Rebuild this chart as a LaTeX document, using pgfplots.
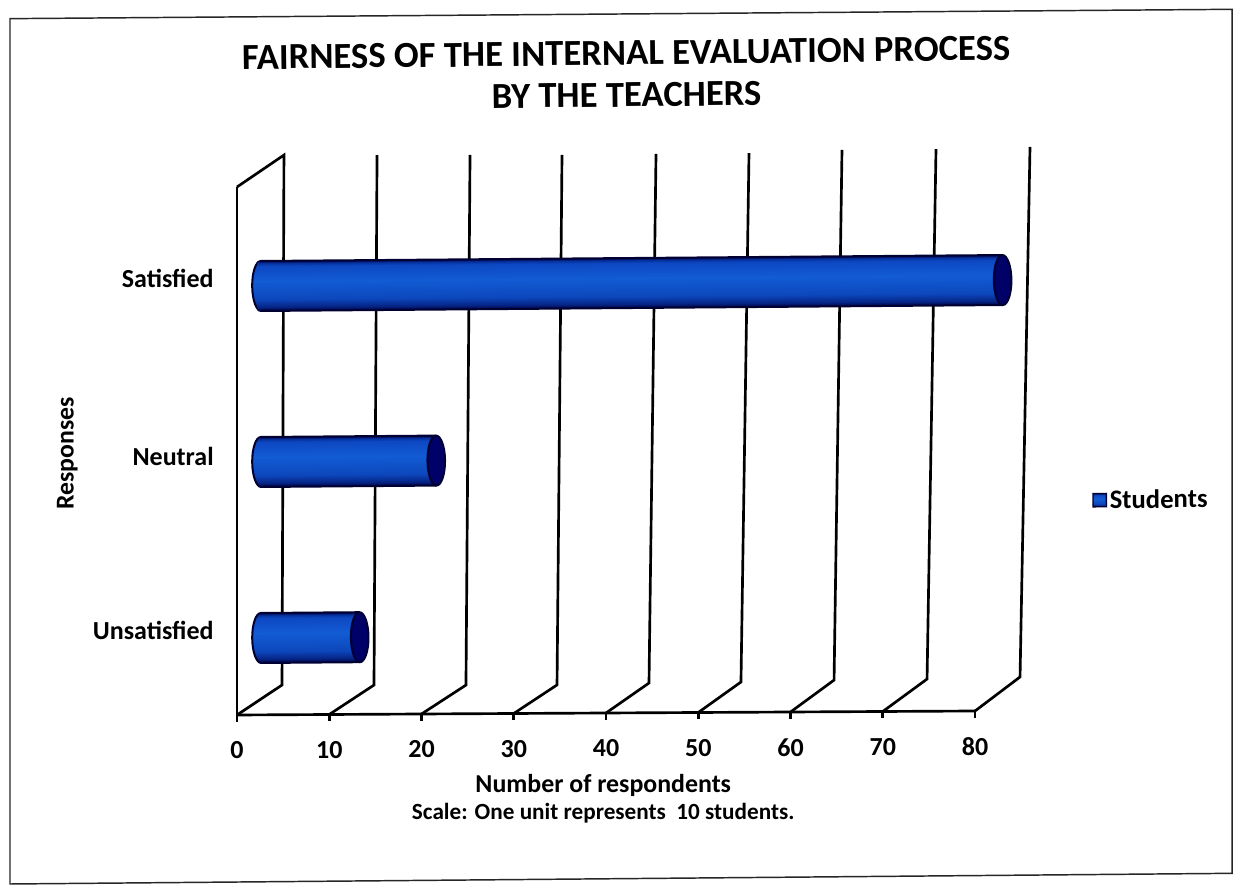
\documentclass[border=0pt]{standalone}
\usepackage{pgfplots}
\pgfplotsset{compat=1.18}
\usepackage{fontspec}
\setmainfont{Carlito}
\definecolor{navy}{RGB}{0,0,50}
\definecolor{capblue}{RGB}{0,0,105}
\pgfdeclareverticalshading{cyl}{100bp}{
  rgb(0bp)=(0,0,0.22);
  rgb(25bp)=(0,0,0.22);
  rgb(29bp)=(0.02,0.14,0.52);
  rgb(37bp)=(0.05,0.28,0.74);
  rgb(55bp)=(0.07,0.36,0.83);
  rgb(70bp)=(0.05,0.28,0.76);
  rgb(73bp)=(0.02,0.18,0.60);
  rgb(75bp)=(0,0,0.25);
  rgb(100bp)=(0,0,0.25)}
\pgfdeclareplotmark{capleft}{%
  \pgfpathellipse{\pgfpointorigin}{\pgfqpoint{6.6pt}{0pt}}{\pgfqpoint{0pt}{18.75pt}}%
  \pgfshadepath{cyl}{0}%
  \pgfpathellipse{\pgfpointorigin}{\pgfqpoint{6.6pt}{0pt}}{\pgfqpoint{0pt}{18.75pt}}%
  \pgfusepathqstroke}
\pgfdeclareplotmark{capright}{%
  \pgfpathellipse{\pgfpointorigin}{\pgfqpoint{6.6pt}{0pt}}{\pgfqpoint{0pt}{18.75pt}}%
  \pgfusepathqfillstroke}
\pgfplotsset{
  wall/.style={line width=2pt,black,mark=none,solid},
  baraxis/.style={
    at={(195.75pt,121.5pt)},anchor=origin,
    x={(6.919pt,0pt)},y={(1.05pt,132pt)},
    xmin=0,xmax=80,ymin=0,ymax=3,
    clip=false,hide axis},
  cylbar/.style={xbar,bar width=37.5pt,bar shift=0pt,draw=none,shade,shading=cyl},
  edge/.style={line width=1.5pt,navy,mark=none,solid,forget plot},
}
\begin{document}
\begin{tikzpicture}
\path[use as bounding box,fill=white] (0pt,0pt) rectangle (933.75pt,666pt);
% page frame (scan is slightly tilted)
\draw[line width=1.1pt,black!85] (7.5pt,652pt) -- (924pt,659pt) -- (924pt,11pt) -- (7.5pt,3pt) -- cycle;
\begin{axis}[
  at={(177.75pt,129.75pt)},anchor=origin,
  x={(6.919pt,0.0375pt)},y={(0pt,132pt)},
  xmin=0,xmax=80,ymin=0,ymax=3,
  clip=false,
  axis lines=left,
  axis line style={-,line width=2pt,black},
  xtick={0,10,...,80},
  ytick={0.48,1.47,2.48},
  yticklabels={Unsatisfied,Neutral,Satisfied},
  tick align=outside,
  xtick style={line width=2pt,black},
  ytick style={draw=none},
  major tick length=5pt,
  /pgf/number format/assume math mode=true,
  ticklabel style={font=\bfseries\fontsize{19.5}{22}\selectfont},
  xticklabel style={yshift=-11.5pt},
  yticklabel style={xshift=-9pt},
  title={FAIRNESS OF THE INTERNAL EVALUATION PROCESS\\BY THE TEACHERS},
  title style={at={(axis cs:42.2,3.585)},anchor=center,align=center,rotate=0.7,
    font=\bfseries\fontsize{27.5}{31.5}\selectfont},
  xlabel={{\fontsize{19.4}{21}\selectfont Number of respondents}\\[3.5pt]{\fontsize{17.4}{19}\selectfont Scale: One unit represents~~10 students.}},
  xlabel style={at={(axis cs:39.7,-0.488)},anchor=center,align=center,font=\bfseries},
  ylabel={Responses},
  ylabel style={at={(axis cs:-18.4,1.49)},anchor=center,rotate=0,font=\bfseries\fontsize{19.3}{22}\selectfont},
]
\addplot[wall] coordinates {(0,3) (5.09,3.18) (4.88,.169) (0,0)};
\addplot[wall] coordinates {(15.18,3.177) (14.85,.166) (10,0)};
\addplot[wall] coordinates {(25.26,3.175) (24.82,.163) (20,0)};
\addplot[wall] coordinates {(35.23,3.172) (34.69,.161) (30,0)};
\addplot[wall] coordinates {(45.42,3.175) (44.66,.169) (40,0)};
\addplot[wall] coordinates {(55.50,3.177) (54.63,.172) (50,0)};
\addplot[wall] coordinates {(65.58,3.192) (64.72,.180) (60,0)};
\addplot[wall] coordinates {(75.77,3.194) (74.80,.183) (70,0)};
\addplot[wall] coordinates {(85.96,3.203) (84.88,.192) (80,0)};
\end{axis}
\begin{scope}[transform canvas={rotate around={0.46:(195.75pt,121.5pt)}}]
\begin{axis}[baraxis]
\addplot[only marks,mark=capleft,mark options={draw=navy,line width=1.5pt}] coordinates {(0,0.5) (0,1.5) (0,2.5)};
\end{axis}
\begin{axis}[baraxis,
  legend style={at={(axis cs:90.1,1.245)},anchor=west,draw=none,fill=none,
    font=\bfseries\fontsize{20}{22}\selectfont,inner sep=0pt},
  legend image code/.code={\draw[draw=navy,line width=1pt,shade,shading=cyl] (-2.3pt,-5pt) rectangle (7.7pt,5pt);},
]
\addplot[cylbar] coordinates {(10.7,0.5)};
\addlegendentry{Students}
\addplot[cylbar,forget plot] coordinates {(19,1.5)};
\addplot[cylbar,forget plot] coordinates {(80.4,2.5)};
\addplot[edge] coordinates {(0,0.642) (10.7,0.642)};
\addplot[edge] coordinates {(0,0.358) (10.7,0.358)};
\addplot[edge] coordinates {(0,1.642) (19,1.642)};
\addplot[edge] coordinates {(0,1.358) (19,1.358)};
\addplot[edge] coordinates {(0,2.642) (80.4,2.642)};
\addplot[edge] coordinates {(0,2.358) (80.4,2.358)};
\addplot[only marks,mark=capright,mark options={draw=navy,fill=capblue,line width=1.5pt},forget plot] coordinates {(10.7,0.5) (19,1.5) (80.4,2.5)};
\end{axis}
\end{scope}
\end{tikzpicture}
\end{document}
